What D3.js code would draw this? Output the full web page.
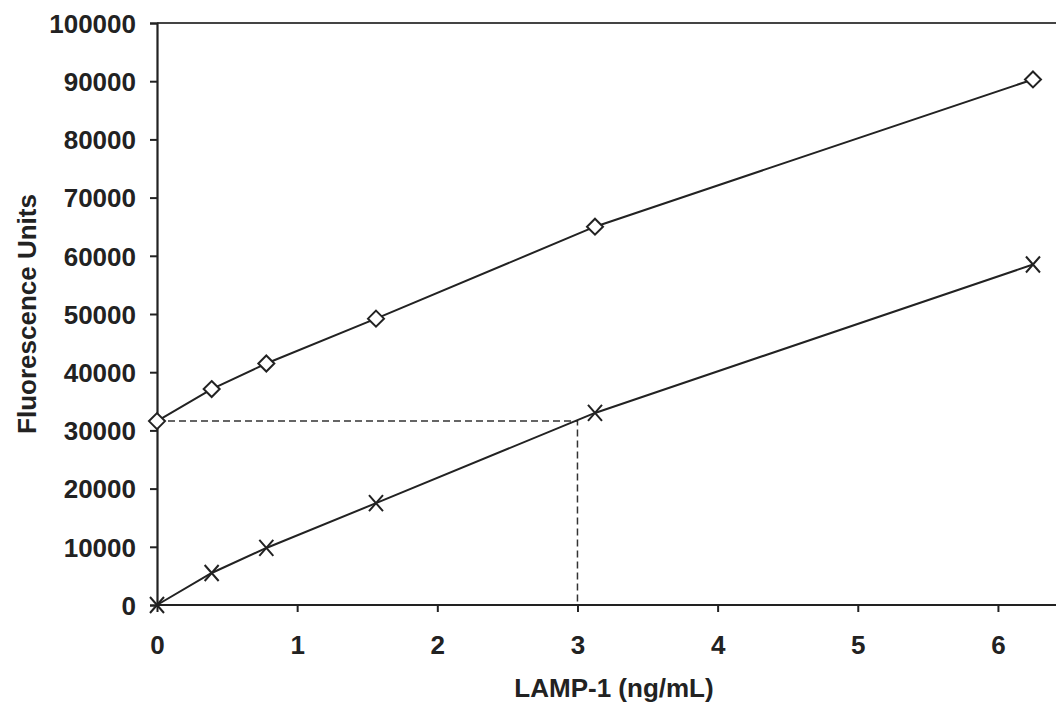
<!DOCTYPE html>
<html><head><meta charset="utf-8">
<script src="https://cdn.jsdelivr.net/npm/d3@7"></script>
<style>body{margin:0;background:#fff}svg{display:block}text{font-family:"Liberation Sans",Arial,sans-serif;font-weight:bold;fill:#222}</style>
</head><body><svg id="c" width="1056" height="710"></svg>
<script>
const concentrations = [0, 0.39, 0.78, 1.5625, 3.125, 6.25];
const diamondSeries = [31600, 37100, 41500, 49200, 65000, 90300];
const crossSeries = [0, 5500, 9800, 17500, 33000, 58500];
const yTicks = [0,10000,20000,30000,40000,50000,60000,70000,80000,90000,100000];
const xTicks = [0,1,2,3,4,5,6];
const readout = {x: 3, y: 31600};

(function(){
const svg = d3.select("#c");
const mL = 157, mR = 1054, mT = 23, mB = 605;
const x = d3.scaleLinear().domain([0, 6.4]).range([mL, mR]);
const y = d3.scaleLinear().domain([0, 100000]).range([mB, mT]);
const ink = "#222";
const fs = "26px";

svg.append("line").attr("x1", mL).attr("x2", 1056).attr("y1", y(100000)).attr("y2", y(100000))
  .attr("stroke", "#444").attr("stroke-width", 2);

const yAxis = svg.append("g").attr("transform", `translate(${mL},0)`)
  .call(d3.axisLeft(y).tickValues(yTicks).tickFormat(d3.format("d")).tickSize(7).tickPadding(14));
const xAxis = svg.append("g").attr("transform", `translate(0,${mB})`)
  .call(d3.axisBottom(x).tickValues(xTicks).tickFormat(d3.format("d")).tickSize(7).tickPadding(24));
[yAxis, xAxis].forEach(g => {
  g.select(".domain").attr("stroke", ink).attr("stroke-width", 2.2);
  g.selectAll(".tick line").attr("stroke", ink).attr("stroke-width", 2);
  g.selectAll("text").style("font-size", fs).attr("fill", ink).style("font-family", '"Liberation Sans",Arial,sans-serif').style("font-weight", "bold");
});
xAxis.select(".domain").attr("d", `M${mL},0H1056`);
yAxis.selectAll("text").attr("dy", "0.36em");

svg.append("path").attr("d", `M${x(0)},${y(readout.y)}H${x(readout.x)}V${y(0)}`)
  .attr("fill", "none").attr("stroke", "#333").attr("stroke-width", 1.5).attr("stroke-dasharray", "7,4");

const line = d3.line().x(d => x(d[0])).y(d => y(d[1]));
const dData = concentrations.map((c, i) => [c, diamondSeries[i]]);
const cData = concentrations.map((c, i) => [c, crossSeries[i]]);
svg.append("path").datum(dData).attr("d", line).attr("fill", "none").attr("stroke", ink).attr("stroke-width", 2);
svg.append("path").datum(cData).attr("d", line).attr("fill", "none").attr("stroke", ink).attr("stroke-width", 2);

svg.selectAll(".dm").data(dData).enter().append("path")
  .attr("transform", d => `translate(${x(d[0])},${y(d[1])})`)
  .attr("d", "M0,-8L8,0L0,8L-8,0Z").attr("fill", "#fff").attr("stroke", ink).attr("stroke-width", 2);
svg.selectAll(".cr").data(cData).enter().append("path")
  .attr("transform", d => `translate(${x(d[0])},${y(d[1])})`)
  .attr("d", "M-7,-8L7,8M-7,8L7,-8").attr("fill", "none").attr("stroke", ink).attr("stroke-width", 2);

svg.append("text").attr("x", 614).attr("y", 697).attr("text-anchor", "middle").style("font-size", fs).text("LAMP-1 (ng/mL)");
svg.append("text").attr("transform", `translate(36,314) rotate(-90)`).attr("text-anchor", "middle").style("font-size", fs).text("Fluorescence Units");
})();
</script></body></html>
